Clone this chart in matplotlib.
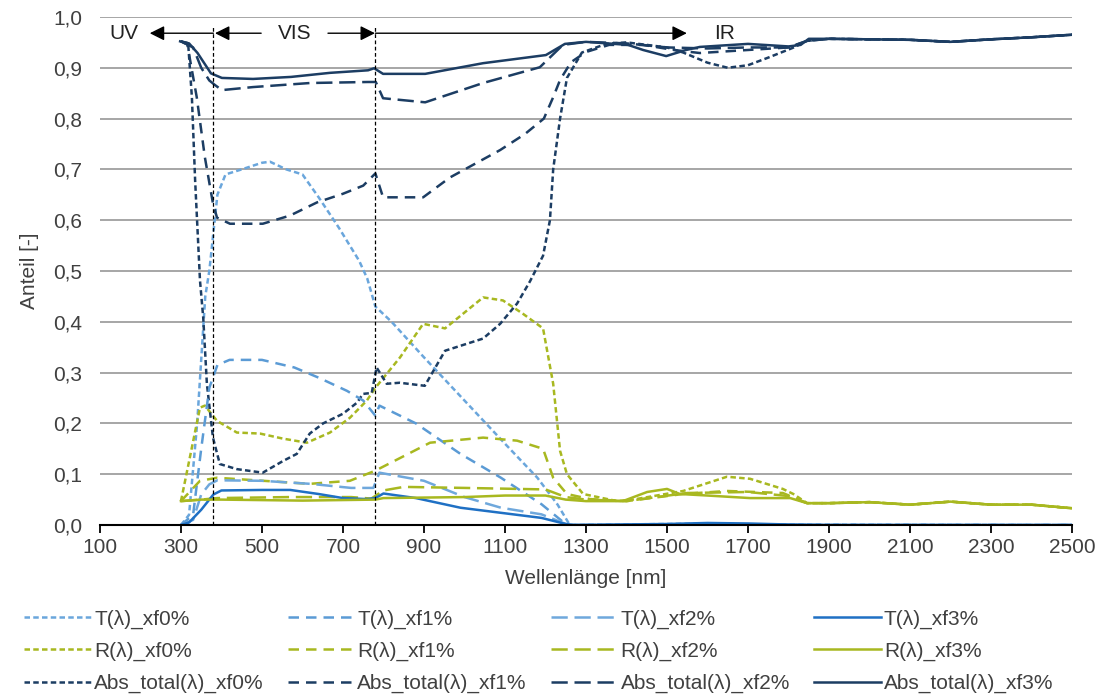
import matplotlib
matplotlib.use("Agg")
import matplotlib.pyplot as plt
from matplotlib.ticker import FuncFormatter, FixedLocator, MultipleLocator

plt.rcParams['font.family'] = ['Liberation Sans', 'DejaVu Sans']

# --- Daten ---
# Transmission
t0_x = [300, 320, 340, 360, 370, 390, 410, 450, 500, 520, 560, 600, 640, 690, 740, 760, 780, 820, 900, 1000, 1100, 1180, 1230, 1260, 1500, 1600, 1700, 2500]
t0_y = [0.0, 0.02, 0.2, 0.45, 0.5, 0.65, 0.69, 0.70, 0.713, 0.715, 0.70, 0.69, 0.645, 0.585, 0.52, 0.485, 0.43, 0.40, 0.33, 0.245, 0.16, 0.093, 0.04, 0.0, 0.002, 0.003, 0.001, 0.0]

t1_x = [300, 330, 350, 370, 390, 420, 500, 580, 640, 710, 750, 780, 790, 880, 990, 1090, 1190, 1245, 1260, 2500]
t1_y = [0.0, 0.02, 0.15, 0.27, 0.315, 0.325, 0.325, 0.31, 0.29, 0.264, 0.245, 0.215, 0.235, 0.20, 0.14, 0.093, 0.041, 0.005, 0.0, 0.0]

t2_x = [300, 330, 350, 370, 390, 500, 620, 720, 775, 790, 900, 1000, 1090, 1190, 1250, 1270, 2500]
t2_y = [0.0, 0.01, 0.06, 0.08, 0.088, 0.087, 0.081, 0.073, 0.073, 0.103, 0.087, 0.055, 0.034, 0.021, 0.002, 0.0, 0.0]

t3_x = [300, 320, 350, 380, 400, 500, 570, 640, 700, 760, 780, 800, 880, 990, 1090, 1190, 1250, 1270, 1500, 1600, 1700, 1800, 1900, 2500]
t3_y = [0.0, 0.005, 0.03, 0.06, 0.068, 0.069, 0.069, 0.061, 0.053, 0.051, 0.053, 0.062, 0.053, 0.034, 0.024, 0.014, 0.002, 0.0, 0.002, 0.004, 0.003, 0.001, 0.0, 0.0]

# Reflexion
r0_x = [300, 347, 359, 389, 438, 495, 552, 611, 668, 717, 759, 780, 841, 898, 952, 1046, 1095, 1144, 1194, 1219, 1236, 1253, 1293, 1377, 1416, 1540, 1648, 1705, 1786, 1812, 1846, 1900, 2000, 2100, 2200, 2300, 2400, 2500]
r0_y = [0.047, 0.231, 0.235, 0.205, 0.182, 0.18, 0.17, 0.162, 0.182, 0.211, 0.245, 0.27, 0.33, 0.396, 0.387, 0.448, 0.442, 0.416, 0.387, 0.278, 0.146, 0.10, 0.061, 0.047, 0.05, 0.067, 0.095, 0.091, 0.071, 0.061, 0.043, 0.043, 0.045, 0.04, 0.046, 0.04, 0.04, 0.033]

r1_x = [300, 347, 389, 618, 717, 780, 915, 1046, 1130, 1194, 1219, 1253, 1310, 1400, 1540, 1648, 1786, 1846, 1900, 2000, 2100, 2200, 2300, 2400, 2500]
r1_y = [0.047, 0.087, 0.093, 0.081, 0.087, 0.107, 0.162, 0.172, 0.166, 0.15, 0.093, 0.061, 0.051, 0.047, 0.061, 0.067, 0.063, 0.043, 0.043, 0.045, 0.04, 0.046, 0.04, 0.04, 0.033]

r2_x = [300, 350, 390, 570, 720, 770, 800, 850, 1000, 1200, 1250, 1300, 1400, 1550, 1700, 1800, 1846, 1900, 2000, 2100, 2200, 2300, 2400, 2500]
r2_y = [0.047, 0.05, 0.053, 0.055, 0.055, 0.052, 0.068, 0.075, 0.073, 0.07, 0.055, 0.05, 0.047, 0.063, 0.065, 0.057, 0.043, 0.043, 0.045, 0.04, 0.046, 0.04, 0.04, 0.033]

r3_x = [300, 350, 400, 600, 780, 800, 1000, 1100, 1200, 1250, 1300, 1391, 1451, 1500, 1532, 1600, 1705, 1804, 1846, 1900, 2000, 2100, 2200, 2300, 2400, 2500]
r3_y = [0.047, 0.05, 0.05, 0.048, 0.05, 0.053, 0.055, 0.058, 0.058, 0.05, 0.047, 0.047, 0.065, 0.071, 0.061, 0.058, 0.053, 0.053, 0.043, 0.043, 0.045, 0.04, 0.046, 0.04, 0.04, 0.033]

# Absorption gesamt
a0_x = [300, 318, 327, 335, 347, 355, 364, 379, 396, 438, 502, 552, 586, 618, 651, 700, 735, 749, 771, 783, 808, 840, 902, 952, 1046, 1088, 1130, 1162, 1194, 1211, 1219, 1236, 1253, 1290, 1350, 1400, 1450, 1500, 1540, 1600, 1650, 1700, 1750, 1810, 1846, 1900, 2000, 2100, 2200, 2300, 2400, 2500]
a0_y = [0.952, 0.945, 0.842, 0.678, 0.481, 0.408, 0.278, 0.172, 0.12, 0.11, 0.103, 0.126, 0.14, 0.18, 0.20, 0.219, 0.241, 0.258, 0.26, 0.31, 0.278, 0.28, 0.274, 0.343, 0.367, 0.396, 0.436, 0.48, 0.53, 0.60, 0.70, 0.80, 0.88, 0.93, 0.947, 0.95, 0.945, 0.94, 0.93, 0.91, 0.90, 0.905, 0.92, 0.939, 0.953, 0.957, 0.956, 0.955, 0.951, 0.956, 0.96, 0.965]

a1_x = [300, 315, 339, 359, 379, 389, 421, 502, 569, 636, 700, 750, 780, 799, 898, 964, 1088, 1150, 1196, 1219, 1236, 1263, 1300, 1357, 1441, 1517, 1581, 1700, 1800, 1846, 1900, 2000, 2100, 2200, 2300, 2400, 2500]
a1_y = [0.952, 0.949, 0.842, 0.724, 0.633, 0.605, 0.593, 0.593, 0.609, 0.635, 0.652, 0.668, 0.692, 0.645, 0.645, 0.684, 0.738, 0.77, 0.80, 0.842, 0.876, 0.911, 0.931, 0.945, 0.945, 0.935, 0.929, 0.935, 0.94, 0.953, 0.957, 0.956, 0.955, 0.951, 0.956, 0.96, 0.965]

a2_x = [300, 330, 350, 370, 384, 401, 478, 619, 762, 781, 799, 903, 1046, 1186, 1243, 1300, 1400, 1500, 1600, 1700, 1800, 1846, 1900, 2000, 2100, 2200, 2300, 2400, 2500]
a2_y = [0.952, 0.94, 0.90, 0.875, 0.866, 0.856, 0.862, 0.87, 0.872, 0.872, 0.84, 0.832, 0.87, 0.901, 0.945, 0.951, 0.948, 0.94, 0.938, 0.94, 0.94, 0.953, 0.957, 0.956, 0.955, 0.951, 0.956, 0.96, 0.965]

a3_x = [298, 320, 341, 374, 401, 478, 572, 668, 762, 777, 799, 903, 1046, 1201, 1248, 1300, 1404, 1441, 1498, 1547, 1581, 1700, 1800, 1830, 1850, 1900, 2000, 2100, 2200, 2300, 2400, 2500]
a3_y = [0.952, 0.948, 0.929, 0.889, 0.88, 0.878, 0.882, 0.89, 0.895, 0.899, 0.888, 0.888, 0.909, 0.925, 0.947, 0.951, 0.945, 0.935, 0.923, 0.935, 0.941, 0.947, 0.942, 0.945, 0.957, 0.957, 0.956, 0.955, 0.951, 0.956, 0.96, 0.965]

anteile = ['xf0%', 'xf1%', 'xf2%', 'xf3%']
x_ticks = list(range(100, 2501, 200))
reihen = {
    'T(λ)_': [(t0_x, t0_y), (t1_x, t1_y), (t2_x, t2_y), (t3_x, t3_y)],
    'R(λ)_': [(r0_x, r0_y), (r1_x, r1_y), (r2_x, r2_y), (r3_x, r3_y)],
    'Abs_total(λ)_': [(a0_x, a0_y), (a1_x, a1_y), (a2_x, a2_y), (a3_x, a3_y)],
}

farben = {
    'T(λ)_': ['#6AA6DC', '#5B9BD5', '#6FA8DC', '#1F70C4'],
    'R(λ)_': ['#A8B820', '#A8B820', '#A8B820', '#A8B820'],
    'Abs_total(λ)_': ['#1C3D63', '#1C3D63', '#1C3D63', '#1C3D63'],
}
stile = [(0, (2.2, 1.3)), (0, (4.2, 2.8)), (0, (6.5, 2.7)), '-']

fig = plt.figure(figsize=(11.02, 6.95), dpi=100)
ax = fig.add_axes([0.0907, 0.2446, 0.8821, 0.7310])

# Zeichnen: xf aussen, damit die Legende spaltenweise passt
for i, name in enumerate(anteile):
    for prefix in ['T(λ)_', 'R(λ)_', 'Abs_total(λ)_']:
        xs, ys = reihen[prefix][i]
        ax.plot(xs, ys, color=farben[prefix][i], linestyle=stile[i],
                linewidth=1.8, label=prefix + name)

# Bereichsgrenzen UV / VIS / IR
for g in [380, 780]:
    ax.plot([g, g], [0, 0.985], color='black', linestyle=(0, (3, 2)), linewidth=0.9)

pfeil = dict(arrowstyle='-|>', color='black', lw=1.0, mutation_scale=22, shrinkA=0, shrinkB=0)
ax.annotate('', xy=(223, 0.968), xytext=(380, 0.968), arrowprops=pfeil)
ax.annotate('', xy=(384, 0.968), xytext=(498, 0.968), arrowprops=pfeil)
ax.annotate('', xy=(779, 0.968), xytext=(663, 0.968), arrowprops=pfeil)
ax.annotate('', xy=(1549, 0.968), xytext=(780, 0.968), arrowprops=pfeil)
ax.text(124, 0.968, 'UV', fontsize=15, va='center', ha='left', color='#222222')
ax.text(581, 0.968, 'VIS', fontsize=15, va='center', ha='center', color='#222222')
ax.text(1643, 0.968, 'IR', fontsize=15, va='center', ha='center', color='#222222')

ax.set_xlim(100, 2500)
ax.set_ylim(0, 1.0)
ax.xaxis.set_major_locator(FixedLocator(x_ticks))
ax.yaxis.set_major_locator(MultipleLocator(0.1))
ax.yaxis.set_major_formatter(FuncFormatter(lambda v, p: f'{v:.1f}'.replace('.', ',')))

ax.grid(axis='y', color='#A6A6A6', linewidth=1.4)
ax.set_axisbelow(True)
for s in ['top', 'right', 'left']:
    ax.spines[s].set_visible(False)
ax.spines['bottom'].set_linewidth(1.5)
ax.tick_params(axis='y', length=0, pad=13, labelsize=15, labelcolor='#404040')
ax.tick_params(axis='x', length=6, width=1.3, direction='out', pad=3, labelsize=15, labelcolor='#404040')

ax.set_xlabel('Wellenlänge [nm]', fontsize=15, color='#404040', labelpad=9)
ax.set_ylabel('Anteil [-]', fontsize=15, color='#404040', labelpad=10)

fig.legend(loc='upper left', bbox_to_anchor=(0.022, 0.123), ncol=4, frameon=False,
           fontsize=15, handlelength=3.2, handletextpad=0.15, columnspacing=1.15,
           labelspacing=0.62, borderpad=0, borderaxespad=0, labelcolor='#404040')

plt.savefig('out.png', dpi=100)
